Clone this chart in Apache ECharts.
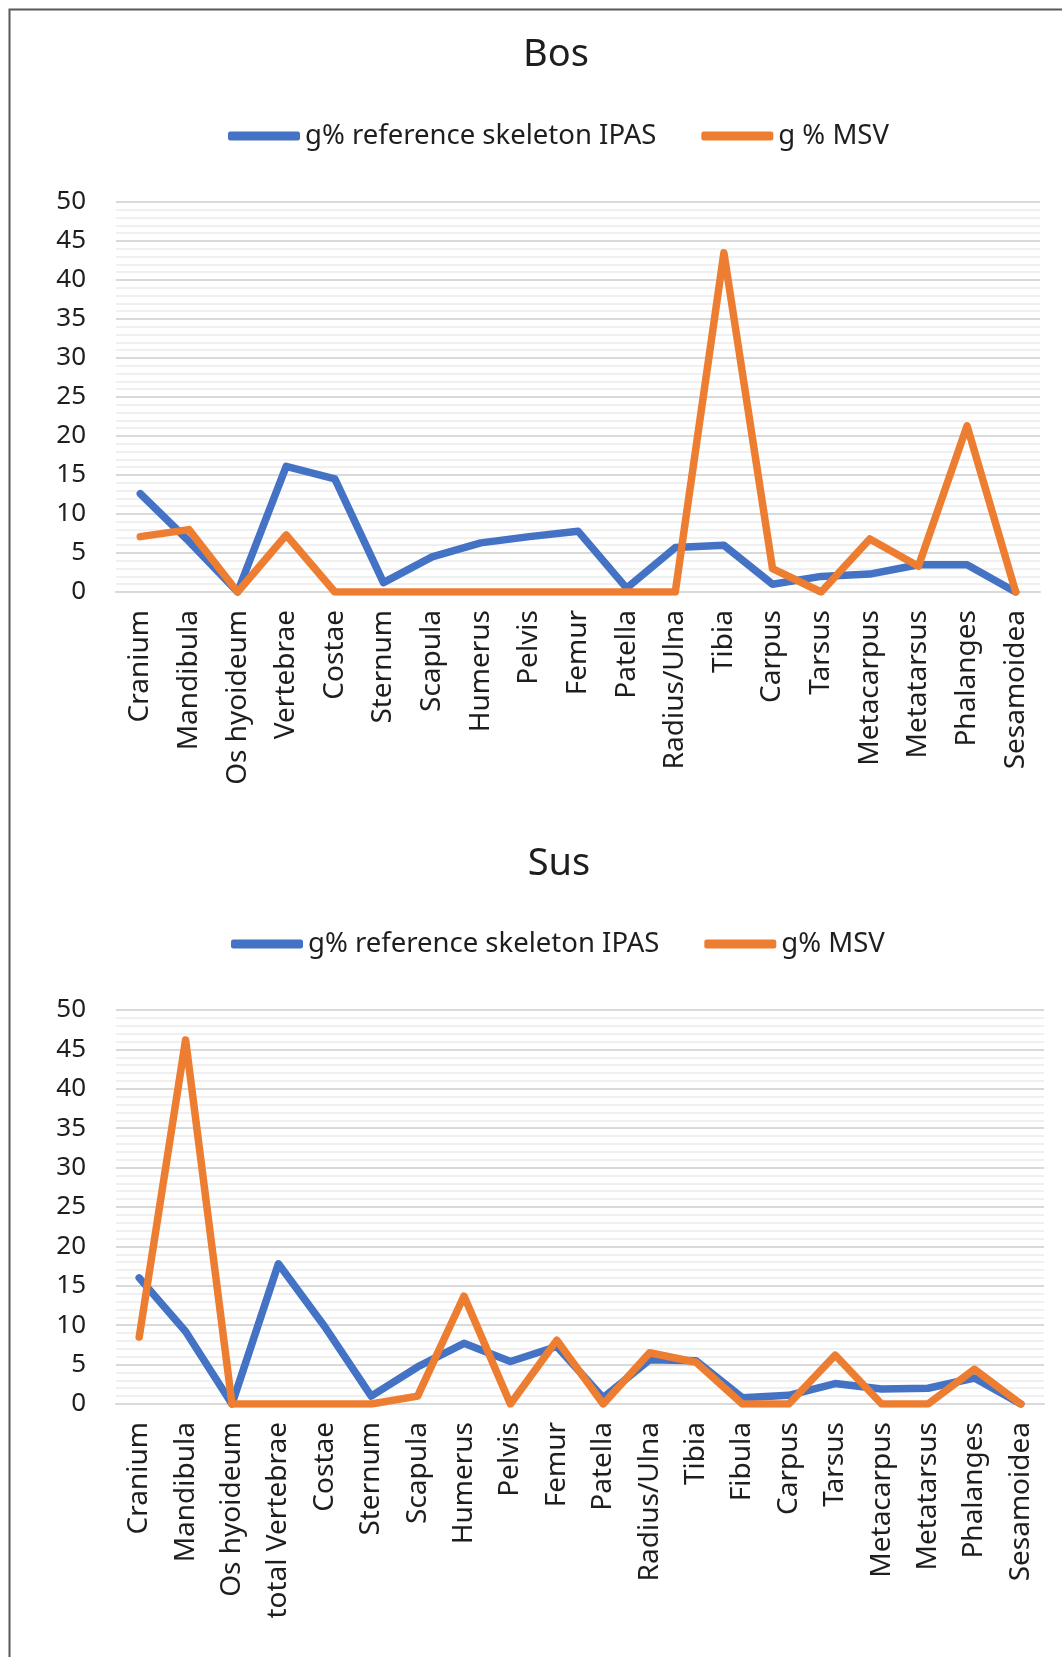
<!DOCTYPE html>
<html>
<head>
<meta charset="utf-8">
<script src="https://cdn.jsdelivr.net/npm/echarts@6/dist/echarts.min.js"></script>
<style>
html,body{margin:0;padding:0;background:#fff;}
#chart{width:1062px;height:1657px;}
</style>
</head>
<body>
<div id="chart"></div>
<script>
// ---- Data: Bos (top chart) ----
var bosCategories = ['Cranium','Mandibula','Os hyoideum','Vertebrae','Costae','Sternum','Scapula','Humerus','Pelvis','Femur','Patella','Radius/Ulna','Tibia','Carpus','Tarsus','Metacarpus','Metatarsus','Phalanges','Sesamoidea'];
var bosReference = [12.6, 6.5, 0, 16.1, 14.5, 1.2, 4.5, 6.3, 7.1, 7.8, 0.5, 5.7, 6.0, 1.0, 2.0, 2.3, 3.5, 3.5, 0];
var bosMSV       = [7.1, 8.0, 0, 7.3, 0, 0, 0, 0, 0, 0, 0, 0, 43.5, 3.0, 0, 6.8, 3.3, 21.3, 0];

// ---- Data: Sus (bottom chart) ----
var susCategories = ['Cranium','Mandibula','Os hyoideum','total Vertebrae','Costae','Sternum','Scapula','Humerus','Pelvis','Femur','Patella','Radius/Ulna','Tibia','Fibula','Carpus','Tarsus','Metacarpus','Metatarsus','Phalanges','Sesamoidea'];
var susReference = [16.0, 9.2, 0, 17.8, 9.8, 1.0, 4.7, 7.7, 5.4, 7.3, 0.8, 5.6, 5.5, 0.8, 1.1, 2.6, 1.9, 2.0, 3.3, 0];
var susMSV       = [8.5, 46.2, 0, 0, 0, 0, 1.0, 13.7, 0, 8.1, 0, 6.5, 5.3, 0, 0, 6.2, 0, 0, 4.4, 0];

// ---- Labels ----
var yTicks = { min: 0, max: 50, interval: 5 };
var titles = ['Bos', 'Sus'];
var refName = 'g% reference skeleton IPAS';
var msvNames = ['g % MSV', 'g% MSV'];

var FONT = 'Noto Sans';
var TXT = '#1e1e1e';
var BLUE = '#4472C4';
var ORANGE = '#ED7D31';

function xAxis(idx, cats) {
  return {
    type: 'category', gridIndex: idx, data: cats, boundaryGap: true,
    axisLine: { show: true, lineStyle: { color: '#d9d9d9', width: 2 } },
    axisTick: { show: false },
    axisLabel: { interval: 0, rotate: 90, margin: 18, fontFamily: FONT, fontSize: 28, color: TXT }
  };
}
function yAxis(idx) {
  return {
    type: 'value', gridIndex: idx, min: yTicks.min, max: yTicks.max, interval: yTicks.interval,
    axisLine: { show: false }, axisTick: { show: false },
    axisLabel: { margin: 30, fontFamily: FONT, fontSize: 26, color: TXT },
    splitLine: { show: true, lineStyle: { color: '#d9d9d9', width: 2 } },
    minorTick: { show: false, splitNumber: 5 },
    minorSplitLine: { show: true, lineStyle: { color: '#f0f0f0', width: 2 } }
  };
}
function lineSeries(name, data, idx, color) {
  return {
    type: 'line', name: name, data: data, xAxisIndex: idx, yAxisIndex: idx,
    showSymbol: false, symbol: 'none', animation: false,
    lineStyle: { color: color, width: 7.5, cap: 'round', join: 'round' },
    itemStyle: { color: color }
  };
}

var chart = echarts.init(document.getElementById('chart'));
chart.setOption({
  animation: false,
  backgroundColor: '#fff',
  graphic: [{
    type: 'rect', left: 7, top: 7, silent: true,
    shape: { x: 0, y: 0, width: 1200, height: 1800 },
    style: { fill: 'none', stroke: '#595959', lineWidth: 2 }
  }],
  title: [
    { text: titles[0], left: 551, top: 31, textAlign: 'center',
      textStyle: { fontFamily: FONT, fontSize: 38, fontWeight: 'normal', color: TXT } },
    { text: titles[1], left: 554, top: 840, textAlign: 'center',
      textStyle: { fontFamily: FONT, fontSize: 38, fontWeight: 'normal', color: TXT } }
  ],
  legend: [
    { left: 223, top: 117, icon: 'roundRect', itemWidth: 72, itemHeight: 9, itemGap: 45,
      data: [refName, msvNames[0]],
      textStyle: { fontFamily: FONT, fontSize: 27.5, color: TXT } },
    { left: 226, top: 925, icon: 'roundRect', itemWidth: 72, itemHeight: 9, itemGap: 45,
      data: [refName, msvNames[1]],
      textStyle: { fontFamily: FONT, fontSize: 27.5, color: TXT } }
  ],
  grid: [
    { left: 116, right: 22, top: 202, height: 390 },
    { left: 116, right: 18, top: 1010, height: 394 }
  ],
  xAxis: [xAxis(0, bosCategories), xAxis(1, susCategories)],
  yAxis: [yAxis(0), yAxis(1)],
  series: [
    lineSeries(refName, bosReference, 0, BLUE),
    lineSeries(msvNames[0], bosMSV, 0, ORANGE),
    lineSeries(refName, susReference, 1, BLUE),
    lineSeries(msvNames[1], susMSV, 1, ORANGE)
  ]
});
</script>
</body>
</html>
